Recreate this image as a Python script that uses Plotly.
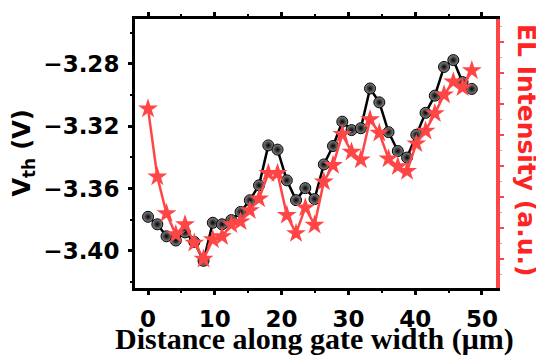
import plotly.graph_objects as go

distance_um = [0, 1.39, 2.77, 4.16, 5.54, 6.93, 8.31, 9.70, 11.08, 12.47, 13.85, 15.24,
               16.62, 18.01, 19.39, 20.78, 22.16, 23.55, 24.93, 26.32, 27.70, 29.09, 30.47,
               31.86, 33.24, 34.63, 36.01, 37.40, 38.78, 40.17, 41.55, 42.94, 44.32, 45.71,
               47.09, 48.48]

vth_V = [-3.3781, -3.3829, -3.3906, -3.3933, -3.3881, -3.3942, -3.4063, -3.3819, -3.3829,
         -3.3802, -3.3750, -3.3675, -3.3579, -3.3323, -3.3350, -3.3547, -3.3674, -3.3597,
         -3.3667, -3.3445, -3.3327, -3.3171, -3.3225, -3.3213, -3.2958, -3.3047, -3.3238,
         -3.3359, -3.3401, -3.3255, -3.3114, -3.3004, -3.2820, -3.2776, -3.2917, -3.2961]

el_au = [5.86, 3.66, 2.47, 1.79, 2.12, 1.52, 1.00, 1.63, 1.73, 2.12, 2.21, 2.57, 2.95,
         3.77, 3.77, 2.42, 1.83, 2.66, 2.10, 3.50, 4.03, 5.03, 4.46, 4.21, 5.51, 5.07,
         4.24, 3.99, 3.84, 4.73, 5.14, 5.70, 6.31, 6.73, 6.54, 7.09]

x_ticks = [0, 10, 20, 30, 40, 50]
y_ticks = [-3.40, -3.36, -3.32, -3.28]
y_tick_text = ["\u22123.40", "\u22123.36", "\u22123.32", "\u22123.28"]

RED = "#ff4646"
SANS = "DejaVu Sans"

fig = go.Figure()
fig.add_trace(go.Scatter(
    x=distance_um, y=vth_V, mode="lines+markers",
    line=dict(color="black", width=2.5),
    marker=dict(symbol="circle", size=11, color="#8c8c8c",
                gradient=dict(type="radial", color="black"),
                line=dict(color="black", width=1)),
    showlegend=False))
fig.add_trace(go.Scatter(
    x=distance_um, y=el_au, mode="lines+markers", yaxis="y2",
    line=dict(color=RED, width=2.5),
    marker=dict(symbol="star", size=15, color=RED, line=dict(width=0)),
    showlegend=False))

fig.update_layout(
    width=536, height=354,
    margin=dict(l=127, r=48, t=4, b=74),
    paper_bgcolor="white", plot_bgcolor="white",
    xaxis=dict(range=[-1.95, 52.1], tickvals=x_ticks, showgrid=False, zeroline=False,
               showline=True, linecolor="black", linewidth=3, mirror="ticks",
               ticks="outside", ticklen=4, tickwidth=2.5, tickcolor="black",
               minor=dict(dtick=5, tick0=0, ticks="outside", ticklen=2, tickwidth=1.5, tickcolor="black"),
               tickfont=dict(family=SANS, size=23, color="black", weight="bold"),
               ticklabelstandoff=4),
    yaxis=dict(range=[-3.42375, -3.25125], tickvals=y_ticks, ticktext=y_tick_text,
               showgrid=False, zeroline=False,
               showline=True, linecolor="black", linewidth=3,
               ticks="outside", ticklen=4, tickwidth=2.5, tickcolor="black",
               minor=dict(dtick=0.02, tick0=-3.40, ticks="outside", ticklen=2, tickwidth=1.5, tickcolor="black"),
               tickfont=dict(family=SANS, size=23, color="black", weight="bold"),
               ticklabelstandoff=4),
    yaxis2=dict(overlaying="y", side="right", range=[0.065, 8.757], dtick=1, tick0=0,
                showgrid=False, zeroline=False, showticklabels=False,
                showline=True, linecolor=RED, linewidth=3.5,
                ticks="outside", ticklen=4, tickwidth=2, tickcolor=RED,
                minor=dict(dtick=0.5, ticks="outside", ticklen=2, tickwidth=1, tickcolor="#ff9a9a")),
    annotations=[
        dict(text="V<sub>th</sub> (V)", xref="paper", yref="paper", x=-0.31, y=0.5,
             xanchor="center", yanchor="middle", textangle=-90, showarrow=False,
             font=dict(family=SANS, size=24, color="black", weight="bold")),
        dict(text="EL Intensity (a.u.)", xref="paper", yref="paper", x=1.086, y=0.513,
             xanchor="center", yanchor="middle", textangle=90, showarrow=False,
             font=dict(family=SANS, size=25, color="#ff2424", weight="bold")),
        dict(text="Distance along gate width (\u03bcm)", xref="paper", yref="paper", x=0.496, y=-0.19,
             xanchor="center", yanchor="middle", showarrow=False,
             font=dict(family="Liberation Serif", size=30, color="black", weight="bold")),
    ],
)

fig.write_html("out.html")
